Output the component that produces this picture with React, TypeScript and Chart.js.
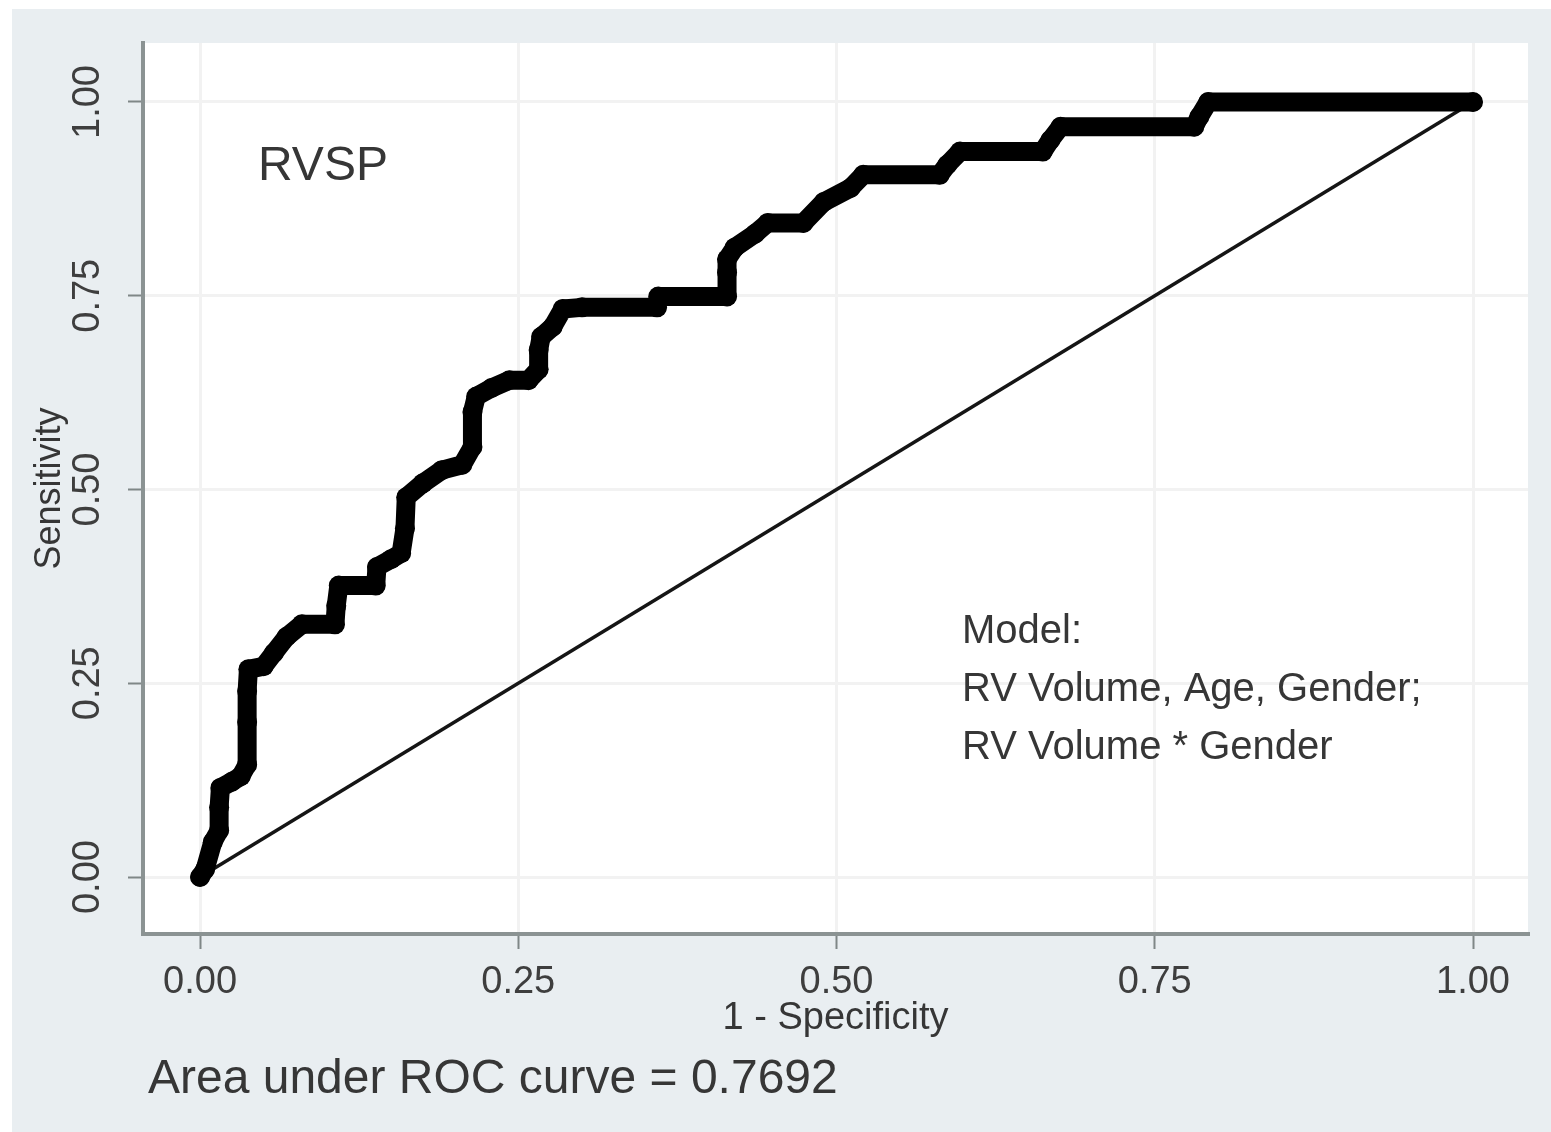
import React, { useEffect, useRef } from 'react';
import { Chart, registerables } from 'chart.js';

Chart.register(...registerables);

// ROC curve: 1 - specificity (x) and sensitivity (y)
const fprValues = [
  0, 0.004, 0.010, 0.015, 0.015, 0.016, 0.025, 0.032, 0.037, 0.037, 0.037, 0.038,
  0.050, 0.058, 0.068, 0.080, 0.106, 0.107, 0.109, 0.138, 0.139, 0.150, 0.158, 0.161,
  0.162, 0.175, 0.190, 0.206, 0.214, 0.214, 0.217, 0.229, 0.243, 0.258, 0.266, 0.266,
  0.268, 0.277, 0.285, 0.300, 0.359, 0.360, 0.414, 0.414, 0.414, 0.420, 0.436, 0.446,
  0.474, 0.490, 0.511, 0.521, 0.581, 0.587, 0.597, 0.662, 0.668, 0.676, 0.781, 0.785,
  0.792, 1.0,
];
const tprValues = [
  0, 0.010, 0.045, 0.060, 0.090, 0.115, 0.123, 0.130, 0.145, 0.200, 0.240, 0.268,
  0.272, 0.289, 0.310, 0.326, 0.326, 0.350, 0.376, 0.376, 0.400, 0.410, 0.418, 0.450,
  0.490, 0.508, 0.525, 0.532, 0.555, 0.600, 0.620, 0.631, 0.641, 0.641, 0.655, 0.680,
  0.697, 0.710, 0.733, 0.735, 0.735, 0.749, 0.749, 0.780, 0.797, 0.812, 0.830, 0.844,
  0.844, 0.871, 0.889, 0.906, 0.906, 0.919, 0.936, 0.936, 0.951, 0.968, 0.968, 0.981,
  1.0, 1.0,
];
// Reference (chance) line
const refLineX = [0, 1];
const refLineY = [0, 1];

const tickValues = [0, 0.25, 0.5, 0.75, 1];
const xTitle = '1 - Specificity';
const yTitle = 'Sensitivity';
const panelLabel = 'RVSP';
const modelLines = ['Model:', 'RV Volume, Age, Gender;', 'RV Volume * Gender'];
const aucLabel = 'Area under ROC curve = 0.7692';

const W = 1551;
const H = 1132;
const FONT = '"Liberation Sans", Arial, Helvetica, sans-serif';

export default function App() {
  const ref = useRef<HTMLCanvasElement>(null);

  useEffect(() => {
    const canvas = ref.current;
    if (!canvas) return;

    const stataPlugin = {
      id: 'stataLook',
      beforeDraw(chart: any) {
        const { ctx, chartArea: a } = chart;
        ctx.save();
        ctx.fillStyle = '#ffffff';
        ctx.fillRect(0, 0, W, H);
        ctx.fillStyle = '#e9eef1';
        ctx.fillRect(12, 9, W - 12, H - 9);
        ctx.fillStyle = '#ffffff';
        ctx.fillRect(a.left, a.top, a.right - a.left, a.bottom - a.top);
        ctx.restore();
      },
      afterDraw(chart: any) {
        const { ctx } = chart;
        const xs = chart.scales.x;
        const ys = chart.scales.y;
        ctx.save();
        ctx.fillStyle = '#363636';
        ctx.textAlign = 'left';
        ctx.textBaseline = 'alphabetic';
        ctx.font = `48px ${FONT}`;
        ctx.fillText(panelLabel, xs.getPixelForValue(0.0456), ys.getPixelForValue(0.899));
        ctx.font = `40px ${FONT}`;
        const modelY = [0.302, 0.227, 0.152];
        modelLines.forEach((t, i) => {
          ctx.fillText(t, xs.getPixelForValue(0.5986), ys.getPixelForValue(modelY[i]));
        });
        ctx.font = `48px ${FONT}`;
        ctx.fillText(aucLabel, 148, 1093);
        ctx.restore();
      },
    };

    const chart = new Chart(canvas, {
      type: 'scatter',
      data: {
        datasets: [
          {
            label: 'ROC',
            data: fprValues.map((x, i) => ({ x, y: tprValues[i] })),
            showLine: true,
            borderColor: '#000000',
            backgroundColor: '#000000',
            borderWidth: 19,
            borderJoinStyle: 'round',
            borderCapStyle: 'round',
            pointRadius: 10,
            pointBorderWidth: 0,
            pointBackgroundColor: '#000000',
          },
          {
            label: 'Reference',
            data: refLineX.map((x, i) => ({ x, y: refLineY[i] })),
            showLine: true,
            borderColor: '#151515',
            borderWidth: 3.5,
            pointRadius: 0,
          },
        ],
      },
      options: {
        animation: false,
        responsive: false,
        devicePixelRatio: 1,
        layout: { padding: { left: 0, top: 43, right: 23, bottom: 0 } },
        plugins: { legend: { display: false }, tooltip: { enabled: false } },
        scales: {
          x: {
            type: 'linear',
            min: -0.0448,
            max: 1.0432,
            afterBuildTicks: (s: any) => {
              s.ticks = tickValues.map((v) => ({ value: v }));
            },
            afterFit: (s: any) => {
              s.height = H - 934;
            },
            ticks: {
              callback: (v: any) => Number(v).toFixed(2),
              font: { size: 38, family: FONT },
              color: '#3e3e3e',
              padding: 11,
              minRotation: 0,
              maxRotation: 0,
              autoSkip: false,
            },
            grid: {
              color: '#f2f2f2',
              lineWidth: 3,
              tickLength: 15,
              tickColor: '#7f8787',
              tickWidth: 2,
            },
            border: { display: true, color: '#8b9393', width: 4 },
            title: {
              display: true,
              text: xTitle,
              font: { size: 38, family: FONT },
              color: '#363636',
              padding: { top: 0, bottom: 91 },
            },
          },
          y: {
            type: 'linear',
            min: -0.0735,
            max: 1.0761,
            afterBuildTicks: (s: any) => {
              s.ticks = tickValues.map((v) => ({ value: v }));
            },
            afterFit: (s: any) => {
              s.width = 143;
            },
            ticks: {
              callback: (v: any) => Number(v).toFixed(2),
              font: { size: 38, family: FONT },
              color: '#3e3e3e',
              padding: 3,
              minRotation: 90,
              maxRotation: 90,
              crossAlign: 'center',
              autoSkip: false,
            },
            grid: {
              color: '#f2f2f2',
              lineWidth: 3,
              tickLength: 15,
              tickColor: '#7f8787',
              tickWidth: 2,
            },
            border: { display: true, color: '#8b9393', width: 4 },
            title: {
              display: true,
              text: yTitle,
              font: { size: 36, family: FONT },
              color: '#363636',
              padding: { top: 28, bottom: 0 },
            },
          },
        },
      },
      plugins: [stataPlugin],
    } as any);

    return () => chart.destroy();
  }, []);

  return (
    <div style={{ position: 'absolute', left: 0, top: 0, width: W, height: H }}>
      <canvas ref={ref} width={W} height={H} style={{ display: 'block' }} />
    </div>
  );
}
